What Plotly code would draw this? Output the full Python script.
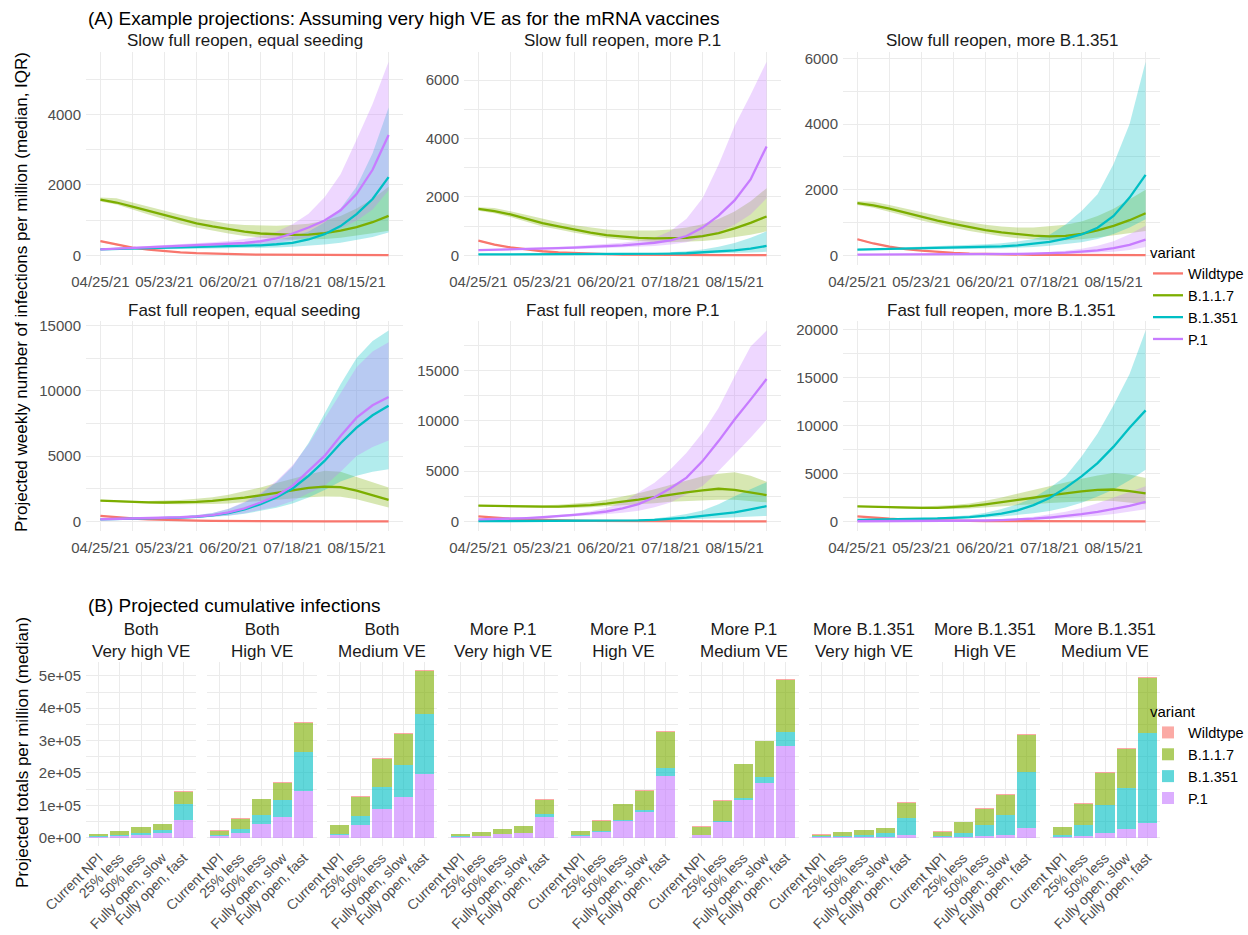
import pandas as pd
import plotly.graph_objects as go

WIDTH, HEIGHT = 1248, 935
FONT = "Liberation Sans, Arial, Helvetica, sans-serif"
GRID = "#EBEBEB"
TICK_COLOR = "#4D4D4D"

# ---------------------------------------------------------------------------
# (A) weekly projected infections per million: median and IQR, 04/25/21 - 08/29/21
# ---------------------------------------------------------------------------
week_start = "2021-04-25"
tick_dates = ["2021-04-25", "2021-05-23", "2021-06-20", "2021-07-18", "2021-08-15"]

variants = ["Wildtype", "B.1.1.7", "B.1.351", "P.1"]
variant_colors = ["#F8766D", "#7CAE00", "#00BFC4", "#C77CFF"]

# Slow full reopen, equal seeding
se_wt_med = [400, 300, 220, 160, 115, 85, 62, 45, 33, 25, 19, 15, 12, 10, 9, 8, 7, 6, 6]
se_wt_lo = [375, 280, 205, 148, 106, 78, 57, 41, 30, 22, 17, 13, 10, 9, 8, 7, 6, 5, 5]
se_wt_hi = [425, 320, 235, 172, 124, 92, 67, 49, 36, 28, 21, 17, 14, 12, 10, 9, 8, 7, 7]
se_b117_med = [1580, 1500, 1380, 1260, 1130, 1010, 910, 820, 740, 670, 620, 590, 580, 590, 630, 700, 800, 940, 1120]
se_b117_lo = [1530, 1440, 1300, 1160, 1020, 900, 790, 700, 620, 550, 500, 460, 440, 440, 460, 500, 560, 630, 700]
se_b117_hi = [1640, 1620, 1500, 1380, 1260, 1150, 1050, 970, 900, 860, 840, 840, 860, 900, 980, 1120, 1330, 1600, 1950]
se_b1351_med = [170, 180, 190, 200, 210, 220, 230, 240, 250, 265, 285, 315, 355, 450, 600, 830, 1170, 1600, 2220]
se_b1351_lo = [150, 160, 165, 170, 175, 180, 185, 190, 195, 200, 210, 220, 240, 270, 310, 360, 430, 520, 650]
se_b1351_hi = [190, 200, 215, 230, 245, 260, 275, 290, 310, 340, 380, 440, 530, 680, 930, 1330, 1950, 2900, 4200]
se_p1_med = [170, 190, 205, 220, 235, 250, 270, 290, 320, 350, 400, 480, 620, 790, 990, 1280, 1740, 2430, 3420]
se_p1_lo = [150, 165, 175, 185, 195, 205, 215, 230, 250, 270, 300, 350, 430, 520, 620, 760, 980, 1300, 1850]
se_p1_hi = [190, 215, 235, 260, 280, 305, 335, 370, 410, 460, 540, 670, 880, 1180, 1650, 2300, 3280, 4300, 5500]

# Slow full reopen, more P.1
sp_wt_med = [500, 370, 270, 195, 140, 100, 72, 52, 38, 28, 21, 16, 13, 11, 9, 8, 7, 6, 6]
sp_wt_lo = [470, 345, 250, 180, 129, 92, 66, 48, 35, 26, 19, 15, 12, 10, 8, 7, 6, 5, 5]
sp_wt_hi = [530, 395, 290, 210, 151, 108, 78, 56, 41, 30, 23, 18, 15, 12, 10, 9, 8, 7, 7]
sp_b117_med = [1590, 1510, 1400, 1250, 1100, 990, 880, 780, 690, 640, 600, 580, 580, 600, 660, 760, 920, 1110, 1330]
sp_b117_lo = [1530, 1440, 1310, 1150, 990, 880, 770, 670, 590, 530, 490, 460, 450, 460, 490, 540, 610, 700, 820]
sp_b117_hi = [1650, 1620, 1510, 1380, 1240, 1130, 1030, 950, 880, 850, 840, 850, 880, 950, 1060, 1240, 1500, 1850, 2300]
sp_b1351_med = [30, 30, 30, 30, 30, 30, 30, 30, 32, 35, 40, 45, 55, 70, 95, 125, 170, 230, 320]
sp_b1351_lo = [20, 20, 20, 20, 20, 20, 20, 20, 22, 24, 27, 30, 35, 42, 52, 63, 78, 95, 120]
sp_b1351_hi = [40, 40, 40, 40, 40, 40, 42, 44, 48, 55, 65, 80, 105, 140, 200, 290, 420, 600, 820]
sp_p1_med = [175, 185, 200, 215, 230, 245, 265, 285, 310, 340, 380, 430, 510, 660, 950, 1360, 1880, 2600, 3730]
sp_p1_lo = [155, 165, 175, 185, 195, 205, 220, 235, 250, 270, 290, 320, 370, 450, 600, 800, 1050, 1400, 1950]
sp_p1_hi = [195, 210, 225, 245, 265, 290, 315, 345, 380, 430, 500, 600, 830, 1250, 1950, 3100, 4430, 5500, 6630]

# Slow full reopen, more B.1.351
sb_wt_med = [490, 360, 265, 190, 140, 100, 72, 52, 38, 28, 21, 16, 13, 11, 9, 8, 7, 6, 6]
sb_wt_lo = [460, 340, 248, 177, 130, 93, 67, 48, 35, 26, 19, 15, 12, 10, 8, 7, 6, 5, 5]
sb_wt_hi = [520, 380, 282, 203, 150, 107, 77, 56, 41, 30, 23, 17, 14, 12, 10, 9, 8, 7, 7]
sb_b117_med = [1590, 1520, 1420, 1300, 1170, 1060, 960, 860, 770, 700, 640, 600, 580, 590, 650, 760, 900, 1070, 1280]
sb_b117_lo = [1530, 1450, 1330, 1200, 1060, 950, 840, 740, 650, 580, 520, 480, 460, 460, 490, 540, 600, 670, 740]
sb_b117_hi = [1650, 1630, 1530, 1420, 1300, 1200, 1100, 1010, 930, 880, 850, 850, 880, 930, 1030, 1200, 1420, 1700, 2000]
sb_b1351_med = [175, 185, 195, 205, 215, 225, 235, 245, 255, 270, 300, 345, 410, 510, 635, 840, 1200, 1760, 2450]
sb_b1351_lo = [155, 165, 170, 175, 180, 185, 190, 195, 200, 210, 225, 250, 290, 340, 400, 500, 650, 850, 1100]
sb_b1351_hi = [195, 210, 225, 240, 255, 270, 290, 310, 335, 370, 420, 500, 630, 940, 1350, 1860, 2780, 4000, 5900]
sb_p1_med = [20, 20, 21, 22, 23, 25, 27, 29, 32, 36, 42, 50, 62, 80, 110, 150, 220, 320, 480]
sb_p1_lo = [15, 15, 15, 16, 17, 18, 19, 20, 22, 24, 28, 32, 38, 48, 62, 80, 110, 160, 250]
sb_p1_hi = [25, 26, 28, 30, 32, 35, 38, 42, 47, 54, 64, 78, 100, 140, 200, 290, 430, 640, 900]

# Fast full reopen, equal seeding
fe_wt_med = [420, 310, 225, 165, 120, 88, 64, 47, 35, 26, 20, 15, 12, 10, 9, 8, 7, 6, 6]
fe_wt_lo = [395, 290, 210, 153, 111, 81, 59, 43, 32, 24, 18, 14, 11, 9, 8, 7, 6, 5, 5]
fe_wt_hi = [445, 330, 240, 177, 129, 95, 69, 51, 38, 28, 22, 17, 14, 12, 10, 9, 8, 7, 7]
fe_b117_med = [1600, 1540, 1490, 1460, 1450, 1460, 1500, 1570, 1680, 1820, 2000, 2200, 2400, 2570, 2660, 2620, 2350, 2000, 1650]
fe_b117_lo = [1550, 1480, 1410, 1360, 1330, 1310, 1310, 1330, 1380, 1440, 1530, 1630, 1750, 1850, 1900, 1880, 1700, 1400, 1070]
fe_b117_hi = [1650, 1600, 1570, 1570, 1590, 1640, 1730, 1860, 2050, 2300, 2600, 2950, 3300, 3600, 3870, 3800, 3400, 3000, 2600]
fe_b1351_med = [160, 180, 200, 225, 255, 300, 360, 460, 640, 920, 1320, 1830, 2520, 3490, 4630, 5980, 7180, 8120, 8850]
fe_b1351_lo = [140, 155, 170, 185, 205, 235, 270, 330, 430, 580, 790, 1050, 1380, 1830, 2400, 3050, 3500, 3800, 4000]
fe_b1351_hi = [180, 205, 235, 270, 310, 380, 480, 650, 950, 1450, 2100, 3000, 4200, 6000, 8300, 10500, 12500, 13800, 14600]
fe_p1_med = [170, 190, 220, 250, 280, 320, 380, 480, 690, 1000, 1450, 1960, 2720, 3870, 5010, 6540, 7940, 8880, 9520]
fe_p1_lo = [150, 165, 185, 205, 225, 255, 290, 350, 460, 630, 880, 1150, 1560, 2150, 2720, 3800, 5000, 5700, 6200]
fe_p1_hi = [190, 215, 255, 300, 345, 400, 490, 650, 980, 1500, 2200, 3100, 4300, 5900, 7800, 9800, 11800, 13000, 13700]

# Fast full reopen, more P.1
fp_wt_med = [500, 370, 270, 195, 140, 100, 72, 52, 38, 28, 21, 16, 13, 11, 9, 8, 7, 6, 6]
fp_wt_lo = [470, 345, 250, 180, 129, 92, 66, 48, 35, 26, 19, 15, 12, 10, 8, 7, 6, 5, 5]
fp_wt_hi = [530, 395, 290, 210, 151, 108, 78, 56, 41, 30, 23, 18, 15, 12, 10, 9, 8, 7, 7]
fp_b117_med = [1580, 1540, 1500, 1480, 1470, 1480, 1520, 1620, 1780, 1960, 2180, 2420, 2680, 2900, 3080, 3250, 3150, 2900, 2620]
fp_b117_lo = [1520, 1470, 1420, 1380, 1350, 1340, 1350, 1400, 1480, 1580, 1700, 1820, 1950, 2050, 2100, 2150, 2150, 2050, 1900]
fp_b117_hi = [1640, 1620, 1600, 1600, 1620, 1670, 1750, 1900, 2150, 2450, 2800, 3200, 3650, 4100, 4500, 4750, 4900, 4550, 3950]
fp_b1351_med = [30, 30, 30, 30, 30, 32, 35, 40, 50, 70, 100, 160, 250, 380, 550, 720, 900, 1200, 1520]
fp_b1351_lo = [20, 20, 20, 20, 20, 22, 24, 27, 32, 42, 58, 85, 125, 180, 250, 320, 390, 470, 550]
fp_b1351_hi = [40, 40, 40, 40, 42, 46, 52, 62, 80, 120, 180, 300, 500, 750, 1100, 1700, 2500, 3200, 3900]
fp_p1_med = [200, 230, 280, 340, 420, 520, 650, 800, 990, 1300, 1720, 2400, 3300, 4360, 6000, 7990, 10130, 12110, 14160]
fp_p1_lo = [180, 200, 240, 285, 345, 420, 510, 600, 710, 870, 1060, 1400, 1880, 2700, 3530, 5020, 6670, 8320, 10100]
fp_p1_hi = [220, 260, 320, 400, 500, 630, 800, 1020, 1350, 1900, 2870, 3860, 5180, 6830, 8810, 11290, 14420, 17390, 18980]

# Fast full reopen, more B.1.351
fb_wt_med = [520, 380, 280, 200, 145, 105, 76, 55, 40, 30, 22, 17, 13, 11, 9, 8, 7, 6, 6]
fb_wt_lo = [490, 357, 263, 188, 136, 99, 71, 52, 37, 28, 20, 16, 12, 10, 8, 7, 6, 5, 5]
fb_wt_hi = [550, 403, 297, 212, 154, 111, 81, 58, 43, 32, 24, 18, 14, 12, 10, 9, 8, 7, 7]
fb_b117_med = [1580, 1520, 1470, 1430, 1410, 1420, 1480, 1590, 1790, 2000, 2230, 2470, 2710, 2930, 3130, 3290, 3330, 3160, 2920]
fb_b117_lo = [1520, 1450, 1390, 1330, 1290, 1280, 1300, 1360, 1450, 1550, 1670, 1800, 1930, 2030, 2100, 2150, 2130, 1980, 1790]
fb_b117_hi = [1640, 1600, 1560, 1550, 1560, 1610, 1720, 1880, 2150, 2500, 2900, 3300, 3680, 4050, 4450, 4800, 5050, 4900, 4540]
fb_b1351_med = [170, 190, 210, 240, 270, 310, 380, 450, 600, 820, 1150, 1700, 2450, 3500, 4700, 6080, 7800, 9760, 11580]
fb_b1351_lo = [150, 165, 180, 200, 220, 245, 290, 330, 400, 510, 650, 850, 1100, 1450, 1960, 2600, 3330, 4300, 5400]
fb_b1351_hi = [190, 215, 245, 290, 340, 410, 520, 650, 900, 1300, 1790, 2470, 3500, 4710, 6770, 9180, 12100, 15360, 19900]
fb_p1_med = [20, 22, 25, 30, 36, 45, 58, 75, 100, 140, 200, 290, 410, 560, 760, 990, 1270, 1620, 2030]
fb_p1_lo = [15, 16, 18, 21, 25, 30, 38, 48, 62, 85, 120, 170, 240, 330, 450, 600, 780, 1000, 1270]
fb_p1_hi = [25, 28, 33, 40, 50, 64, 85, 115, 160, 230, 340, 500, 720, 1000, 1400, 1900, 2500, 3100, 3680]

# ---------------------------------------------------------------------------
# (B) projected cumulative infections per million (median), by NPI scenario
# ---------------------------------------------------------------------------
npi_levels = ["Current NPI", "25% less", "50% less", "Fully open, slow", "Fully open, fast"]

both_vhigh_wt = [1000, 1000, 1000, 1500, 2000]
both_vhigh_b117 = [5500, 12000, 18000, 17500, 39000]
both_vhigh_b1351 = [2500, 4000, 6000, 10000, 48000]
both_vhigh_p1 = [3000, 5000, 8000, 14000, 55000]

both_high_wt = [4000, 1000, 1000, 1500, 3000]
both_high_b117 = [11000, 32000, 49000, 53000, 89000]
both_high_b1351 = [4000, 12000, 26000, 51000, 121000]
both_high_p1 = [5000, 15000, 43000, 65000, 144000]

both_med_wt = [500, 1500, 2000, 4000, 2000]
both_med_b117 = [27000, 60000, 88000, 94000, 134000]
both_med_b1351 = [5000, 28000, 66000, 101000, 184000]
both_med_p1 = [7000, 39000, 89000, 125000, 197000]

p1_vhigh_wt = [1500, 500, 500, 2000, 2000]
p1_vhigh_b117 = [6000, 11000, 14000, 19000, 44000]
p1_vhigh_b1351 = [1500, 1500, 2500, 1500, 8000]
p1_vhigh_p1 = [3000, 5000, 10000, 14000, 65000]

p1_high_wt = [1000, 1000, 1000, 3000, 3000]
p1_high_b117 = [13000, 33000, 47000, 58000, 112000]
p1_high_b1351 = [3000, 2000, 4000, 8000, 24000]
p1_high_p1 = [5000, 17000, 52000, 78000, 192000]

p1_med_wt = [2000, 2000, 1000, 1000, 1000]
p1_med_b117 = [25000, 64000, 104000, 112000, 161000]
p1_med_b1351 = [2000, 3000, 9000, 18000, 43000]
p1_med_p1 = [7000, 47000, 115000, 168000, 284000]

b1351_vhigh_wt = [2000, 500, 500, 500, 4000]
b1351_vhigh_b117 = [4500, 11500, 16000, 17500, 44000]
b1351_vhigh_b1351 = [3000, 3000, 5000, 10000, 54000]
b1351_vhigh_p1 = [1500, 2000, 2500, 3000, 8000]

b1351_high_wt = [3000, 1000, 2000, 4000, 2000]
b1351_high_b117 = [13500, 34000, 50000, 62000, 114000]
b1351_high_b1351 = [3000, 12000, 34000, 61000, 174000]
b1351_high_p1 = [1500, 2000, 5000, 8000, 30000]

b1351_med_wt = [500, 2000, 2000, 3000, 3000]
b1351_med_b117 = [25500, 66000, 100000, 120000, 169000]
b1351_med_b1351 = [6000, 35000, 85000, 127000, 279000]
b1351_med_p1 = [2000, 4000, 15000, 26000, 45000]


def rgba(hex_color, alpha):
    h = hex_color.lstrip("#")
    r, g, b = (int(h[k:k + 2], 16) for k in (0, 2, 4))
    return f"rgba({r},{g},{b},{alpha})"


def ax_name(kind, n):
    return kind if n == 1 else f"{kind}{n}"


line_panels = [
    ("Slow full reopen, equal seeding", 2000,
     [(se_wt_med, se_wt_lo, se_wt_hi), (se_b117_med, se_b117_lo, se_b117_hi),
      (se_b1351_med, se_b1351_lo, se_b1351_hi), (se_p1_med, se_p1_lo, se_p1_hi)]),
    ("Slow full reopen, more P.1", 2000,
     [(sp_wt_med, sp_wt_lo, sp_wt_hi), (sp_b117_med, sp_b117_lo, sp_b117_hi),
      (sp_b1351_med, sp_b1351_lo, sp_b1351_hi), (sp_p1_med, sp_p1_lo, sp_p1_hi)]),
    ("Slow full reopen, more B.1.351", 2000,
     [(sb_wt_med, sb_wt_lo, sb_wt_hi), (sb_b117_med, sb_b117_lo, sb_b117_hi),
      (sb_b1351_med, sb_b1351_lo, sb_b1351_hi), (sb_p1_med, sb_p1_lo, sb_p1_hi)]),
    ("Fast full reopen, equal seeding", 5000,
     [(fe_wt_med, fe_wt_lo, fe_wt_hi), (fe_b117_med, fe_b117_lo, fe_b117_hi),
      (fe_b1351_med, fe_b1351_lo, fe_b1351_hi), (fe_p1_med, fe_p1_lo, fe_p1_hi)]),
    ("Fast full reopen, more P.1", 5000,
     [(fp_wt_med, fp_wt_lo, fp_wt_hi), (fp_b117_med, fp_b117_lo, fp_b117_hi),
      (fp_b1351_med, fp_b1351_lo, fp_b1351_hi), (fp_p1_med, fp_p1_lo, fp_p1_hi)]),
    ("Fast full reopen, more B.1.351", 5000,
     [(fb_wt_med, fb_wt_lo, fb_wt_hi), (fb_b117_med, fb_b117_lo, fb_b117_hi),
      (fb_b1351_med, fb_b1351_lo, fb_b1351_hi), (fb_p1_med, fb_p1_lo, fb_p1_hi)]),
]

bar_panels = [
    ("Both<br>Very high VE", [both_vhigh_wt, both_vhigh_b117, both_vhigh_b1351, both_vhigh_p1]),
    ("Both<br>High VE", [both_high_wt, both_high_b117, both_high_b1351, both_high_p1]),
    ("Both<br>Medium VE", [both_med_wt, both_med_b117, both_med_b1351, both_med_p1]),
    ("More P.1<br>Very high VE", [p1_vhigh_wt, p1_vhigh_b117, p1_vhigh_b1351, p1_vhigh_p1]),
    ("More P.1<br>High VE", [p1_high_wt, p1_high_b117, p1_high_b1351, p1_high_p1]),
    ("More P.1<br>Medium VE", [p1_med_wt, p1_med_b117, p1_med_b1351, p1_med_p1]),
    ("More B.1.351<br>Very high VE", [b1351_vhigh_wt, b1351_vhigh_b117, b1351_vhigh_b1351, b1351_vhigh_p1]),
    ("More B.1.351<br>High VE", [b1351_high_wt, b1351_high_b117, b1351_high_b1351, b1351_high_p1]),
    ("More B.1.351<br>Medium VE", [b1351_med_wt, b1351_med_b117, b1351_med_b1351, b1351_med_p1]),
]

# panel geometry in pixels
line_cols = [(86, 403), (464, 781), (843, 1160)]
line_rows = [(52, 265), (321, 531)]
bar_left0, bar_step, bar_width_px = 86, 120.5, 110
bar_rows = (662, 846)

weeks = pd.date_range(week_start, periods=len(se_wt_med), freq="7D")
span = weeks[-1] - weeks[0]
fmt = "%Y-%m-%d %H:%M:%S"
x_range = [(weeks[0] - span * 0.05).strftime(fmt), (weeks[-1] + span * 0.05).strftime(fmt)]
minor_dates = pd.date_range(weeks[0], weeks[-1], freq="14D").strftime("%Y-%m-%d").tolist()
band_x = list(weeks) + list(weeks[::-1])

tick_font = dict(family=FONT, size=15, color=TICK_COLOR)
bar_tick_font = dict(family=FONT, size=14, color=TICK_COLOR)
fig = go.Figure()
layout = {}
annotations = []

# ---- panel A: ribbons then median lines ----
for i, (title, dtick, series) in enumerate(line_panels):
    n = i + 1
    xa, ya = ax_name("x", n), ax_name("y", n)
    for (med, lo, hi), color in zip(series, variant_colors):
        fig.add_trace(go.Scatter(
            x=band_x, y=list(hi) + list(lo)[::-1], fill="toself",
            fillcolor=rgba(color, 0.3), line=dict(width=0), mode="lines",
            hoverinfo="skip", showlegend=False, xaxis=xa, yaxis=ya))
    for rank, ((med, lo, hi), name, color) in enumerate(zip(series, variants, variant_colors)):
        fig.add_trace(go.Scatter(
            x=weeks, y=med, mode="lines", name=name, legendgroup=name,
            line=dict(color=color, width=2.3), showlegend=(i == 0),
            legend="legend", legendrank=rank + 1, xaxis=xa, yaxis=ya))

    row, col = divmod(i, 3)
    x0, x1 = line_cols[col]
    y0, y1 = line_rows[row]
    ymax = max(max(hi) for _, _, hi in series)
    layout[ax_name("xaxis", n)] = dict(
        domain=[x0 / WIDTH, x1 / WIDTH], anchor=ya, type="date", range=x_range,
        tickmode="array", tickvals=tick_dates, tickformat="%m/%d/%y",
        showgrid=True, gridcolor=GRID, gridwidth=1.4,
        minor=dict(tickmode="array", tickvals=minor_dates, showgrid=True,
                   gridcolor=GRID, gridwidth=0.7),
        zeroline=False, showline=False, ticks="", tickfont=tick_font,
        ticklabelstandoff=6, automargin=False)
    layout[ax_name("yaxis", n)] = dict(
        domain=[1 - y1 / HEIGHT, 1 - y0 / HEIGHT], anchor=xa,
        range=[-0.05 * ymax, 1.05 * ymax], tickmode="linear", tick0=0, dtick=dtick,
        tickformat="d", showgrid=True, gridcolor=GRID, gridwidth=1.4,
        minor=dict(tickmode="linear", tick0=0, dtick=dtick / 2, showgrid=True,
                   gridcolor=GRID, gridwidth=0.7),
        zeroline=False, showline=False, ticks="", tickfont=tick_font,
        ticklabelstandoff=4, automargin=False)
    annotations.append(dict(
        text=title, x=(x0 + x1) / 2 / WIDTH, y=1 - (y0 - 11) / HEIGHT,
        xanchor="center", yanchor="middle",
        font=dict(family=FONT, size=17, color="#1A1A1A")))

# ---- panel B: stacked bars (P.1 at the bottom, Wildtype on top) ----
stack_order = [3, 2, 1, 0]
totals = [sum(parts[v][j] for v in range(4)) for _, parts in bar_panels for j in range(5)]
bar_ymax = max(totals)
bar_ticks = [0, 100000, 200000, 300000, 400000, 500000]
first_bar = len(line_panels) + 1

for k, (title, parts) in enumerate(bar_panels):
    n = first_bar + k
    xa, ya = ax_name("x", n), ax_name("y", n)
    for v in stack_order:
        fig.add_trace(go.Bar(
            x=npi_levels, y=parts[v], name=variants[v], width=0.9,
            marker=dict(color=rgba(variant_colors[v], 0.62), line=dict(width=0)),
            showlegend=(k == 0), legend="legend2", legendrank=v + 1,
            hoverinfo="x+y+name", xaxis=xa, yaxis=ya))
    x0 = bar_left0 + k * bar_step
    x1 = x0 + bar_width_px
    y0, y1 = bar_rows
    layout[ax_name("xaxis", n)] = dict(
        domain=[x0 / WIDTH, x1 / WIDTH], anchor=ya, type="category",
        categoryorder="array", categoryarray=npi_levels, range=[-0.6, 4.6],
        tickangle=-45, showgrid=True, gridcolor=GRID, gridwidth=1.4,
        zeroline=False, showline=False, ticks="", tickfont=bar_tick_font,
        ticklabelstandoff=0, automargin=False)
    yax = dict(
        domain=[1 - y1 / HEIGHT, 1 - y0 / HEIGHT], anchor=xa,
        range=[-0.05 * bar_ymax, 1.05 * bar_ymax], tickmode="array",
        tickvals=bar_ticks, ticktext=[f"{t:.0e}" for t in bar_ticks],
        showgrid=True, gridcolor=GRID, gridwidth=1.4,
        minor=dict(tickmode="array", tickvals=[t + 50000 for t in bar_ticks],
                   showgrid=True, gridcolor=GRID, gridwidth=0.7),
        zeroline=False, showline=False, ticks="", tickfont=tick_font,
        ticklabelstandoff=4, automargin=False)
    if k > 0:
        yax.update(showticklabels=False, matches=ax_name("y", first_bar))
    layout[ax_name("yaxis", n)] = yax
    annotations.append(dict(
        text=title, x=(x0 + x1) / 2 / WIDTH, y=1 - 640 / HEIGHT,
        xanchor="center", yanchor="middle",
        font=dict(family=FONT, size=17, color="#1A1A1A")))

# ---- titles ----
annotations += [
    dict(text="(A) Example projections: Assuming very high VE as for the mRNA vaccines",
         x=86 / WIDTH, y=1 - 19 / HEIGHT, xanchor="left", yanchor="middle",
         font=dict(family=FONT, size=19, color="black")),
    dict(text="(B) Projected cumulative infections",
         x=86 / WIDTH, y=1 - 605 / HEIGHT, xanchor="left", yanchor="middle",
         font=dict(family=FONT, size=19, color="black")),
    dict(text="Projected weekly number of infections per million (median, IQR)",
         x=22 / WIDTH, y=1 - 292 / HEIGHT, textangle=-90, xanchor="center", yanchor="middle",
         font=dict(family=FONT, size=17, color="black")),
    dict(text="Projected totals per million (median)",
         x=22 / WIDTH, y=1 - 753 / HEIGHT, textangle=-90, xanchor="center", yanchor="middle",
         font=dict(family=FONT, size=17, color="black")),
]
for a in annotations:
    a.setdefault("xref", "paper")
    a.setdefault("yref", "paper")
    a.setdefault("showarrow", False)

legend_common = dict(
    xanchor="left", yanchor="top", bgcolor="rgba(0,0,0,0)", borderwidth=0,
    tracegroupgap=0, itemwidth=30, traceorder="normal",
    font=dict(family=FONT, size=14.5, color="black"),
    title=dict(text="variant", font=dict(family=FONT, size=15, color="black")))

fig.update_layout(
    width=WIDTH, height=HEIGHT,
    margin=dict(l=0, r=0, t=0, b=0, pad=0, autoexpand=False),
    paper_bgcolor="white", plot_bgcolor="white", barmode="stack", bargap=0.1,
    font=dict(family=FONT, color="black"),
    legend=dict(x=1148 / WIDTH, y=1 - 238 / HEIGHT, **legend_common),
    legend2=dict(x=1148 / WIDTH, y=1 - 697 / HEIGHT, **legend_common),
    annotations=annotations,
    **layout)

fig.write_html("out.html")
